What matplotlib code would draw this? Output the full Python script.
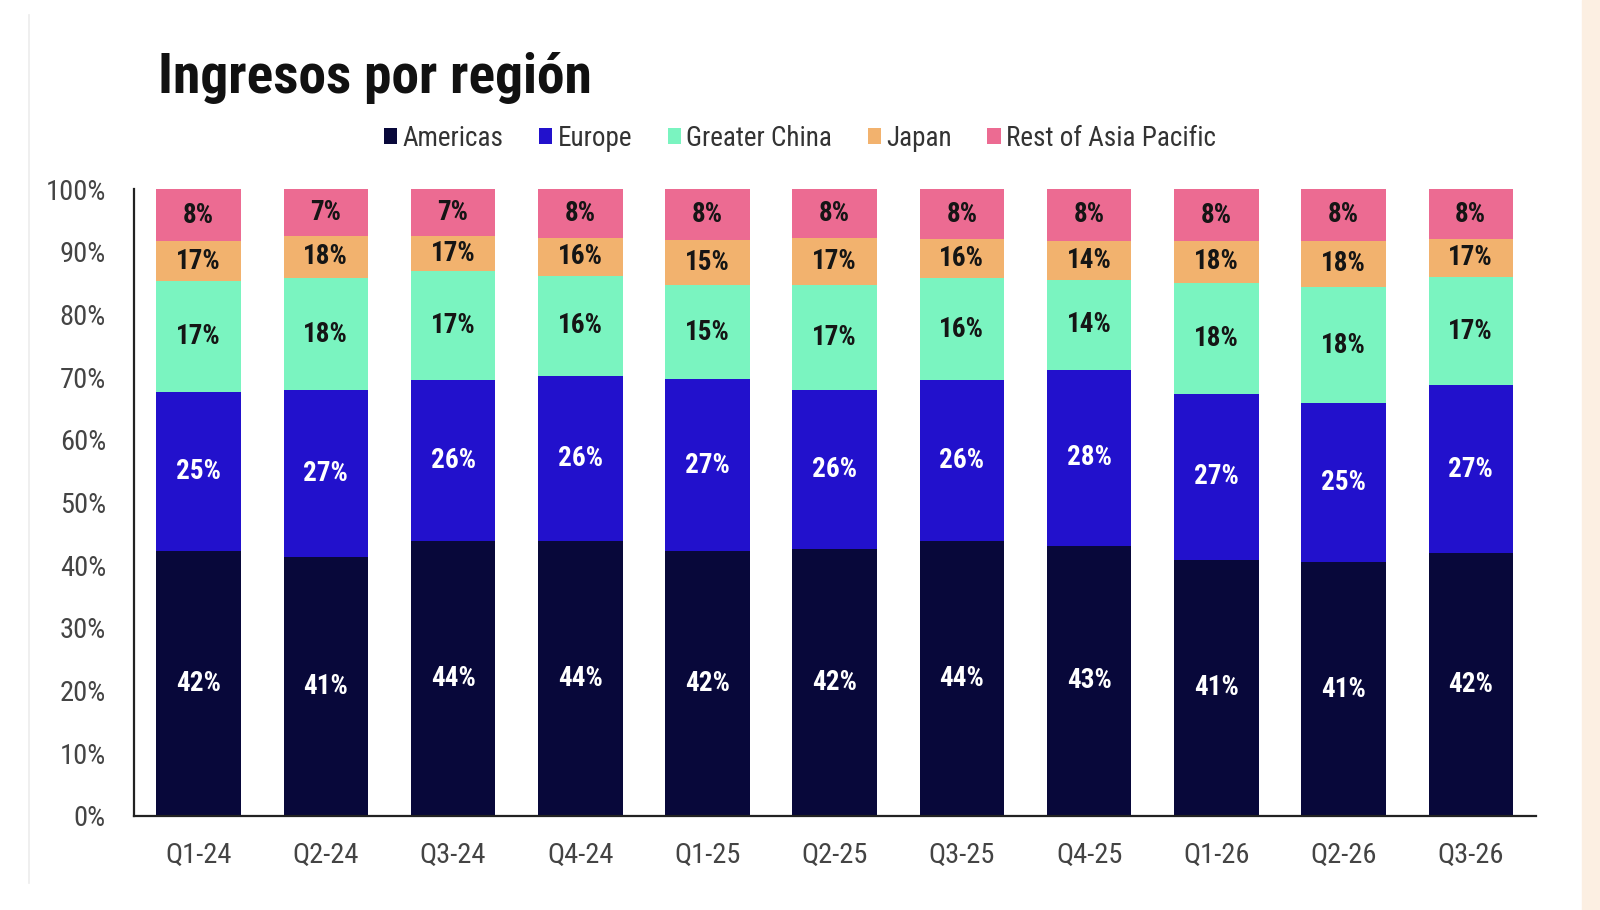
import matplotlib
matplotlib.use("Agg")
import matplotlib.pyplot as plt
from matplotlib import font_manager
from matplotlib.patches import Rectangle
from matplotlib.lines import Line2D
import numpy as np

# ---- data (segment heights, labels as printed) ----
quarters = ["Q1-24", "Q2-24", "Q3-24", "Q4-24", "Q1-25", "Q2-25",
            "Q3-25", "Q4-25", "Q1-26", "Q2-26", "Q3-26"]
regions = ["Americas", "Europe", "Greater China", "Japan", "Rest of Asia Pacific"]

americas = [42.3, 41.3, 43.9, 43.9, 42.3, 42.6, 43.9, 43.1, 40.9, 40.5, 41.9]
europe = [25.3, 26.6, 25.6, 26.3, 27.4, 25.4, 25.6, 28.1, 26.4, 25.4, 26.8]
china = [17.7, 17.9, 17.4, 16.0, 15.0, 16.8, 16.3, 14.3, 17.8, 18.5, 17.3]
japan = [6.4, 6.8, 5.7, 6.1, 7.2, 7.5, 6.2, 6.3, 6.6, 7.4, 6.1]
rest_apac = [8.3, 7.4, 7.4, 7.7, 8.1, 7.7, 8.0, 8.2, 8.3, 8.2, 7.9]

americas_lbl = [42, 41, 44, 44, 42, 42, 44, 43, 41, 41, 42]
europe_lbl = [25, 27, 26, 26, 27, 26, 26, 28, 27, 25, 27]
china_lbl = [17, 18, 17, 16, 15, 17, 16, 14, 18, 18, 17]
japan_lbl = [17, 18, 17, 16, 15, 17, 16, 14, 18, 18, 17]
rest_lbl = [8, 7, 7, 8, 8, 8, 8, 8, 8, 8, 8]

colors = ["#08083a", "#2211cc", "#7af4c0", "#f2b26e", "#ec6b92"]
label_colors = ["white", "white", "#151515", "#151515", "#151515"]

# pick a narrow font if one is there
names = {f.name for f in font_manager.fontManager.ttflist}
narrow = next((n for n in ["Roboto Condensed", "Liberation Sans Narrow",
                           "Open Sans Condensed", "DejaVu Sans"] if n in names),
              "DejaVu Sans")
plt.rcParams["font.family"] = [narrow, "DejaVu Sans"]

fig = plt.figure(figsize=(16, 9.1), dpi=100)
fig.patch.set_facecolor("white")

# beige strip on the right and faint line on the left
fig.add_artist(Rectangle((1582 / 1600, 0), 18 / 1600, 1, transform=fig.transFigure,
                         color="#fcefe2", zorder=0))
fig.add_artist(Line2D([28.6 / 1600] * 2, [1 - 883 / 910, 1 - 15 / 910],
                      transform=fig.transFigure, color="#ececec", lw=1.2))

ax = fig.add_axes([0.0836, 0.1033, 0.8762, 0.6887])

x = np.arange(len(quarters))
series = [americas, europe, china, japan, rest_apac]
labels = [americas_lbl, europe_lbl, china_lbl, japan_lbl, rest_lbl]
bottom = np.zeros(len(quarters))
for vals, lbls, col, lcol, name in zip(series, labels, colors, label_colors, regions):
    vals = np.array(vals)
    ax.bar(x, vals, bottom=bottom, width=0.665, color=col, label=name, zorder=2)
    for xi, b, v, l in zip(x, bottom, vals, lbls):
        ax.text(xi, b + v / 2, f"{l}%", ha="center", va="center", color=lcol,
                fontsize=19.5, fontweight="bold", zorder=3)
    bottom += vals

ax.set_xlim(-0.51, 10.51)
ax.set_ylim(0, 100)
ax.set_yticks(range(0, 101, 10))
ax.set_yticklabels([f"{v}%" for v in range(0, 101, 10)])
ax.set_xticks(x)
ax.set_xticklabels(quarters)
ax.tick_params(axis="both", length=0, labelsize=20.5, colors="#444444")
ax.tick_params(axis="x", pad=19)
ax.tick_params(axis="y", pad=20)
for s in ["top", "right"]:
    ax.spines[s].set_visible(False)
for s in ["left", "bottom"]:
    ax.spines[s].set_linewidth(1.6)
    ax.spines[s].set_color("#222222")

fig.text(158 / 1600, 1 - 93 / 910, "Ingresos por región", fontsize=40,
         fontweight="bold", color="#111111", va="baseline", ha="left")

handles, lbls = ax.get_legend_handles_labels()
fig.legend(handles, lbls, loc="center", bbox_to_anchor=(0.5, 1 - 138 / 910),
           ncol=5, frameon=False, fontsize=19.5, handlelength=0.5, handleheight=0.5,
           handletextpad=0.2, columnspacing=1.3, labelcolor="#333333")

fig.savefig("out.png", dpi=100, facecolor="white")
